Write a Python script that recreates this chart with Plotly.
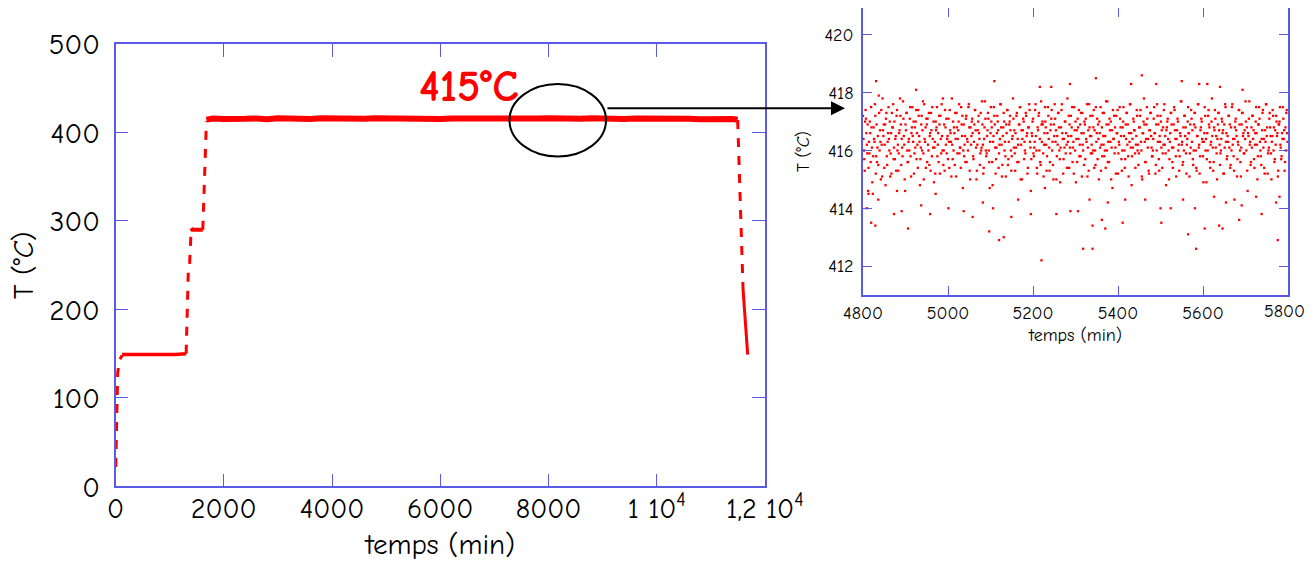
import plotly.graph_objects as go

# ---------------- data: main curve (time in min, temperature in °C) ----------------
rise1_t = [5, 15, 25, 40, 70, 120]
rise1_T = [22, 60, 95, 128, 142, 148]

plat150_t = [120, 300, 500, 700, 900, 1100, 1305]
plat150_T = [149, 149, 149.5, 149, 149.5, 149, 150]

rise2_t = [1305, 1330, 1345, 1366, 1398]
rise2_T = [150, 237, 243, 247, 291]

plat290_t = [1398, 1420, 1480, 1540, 1613]
plat290_T = [292, 290, 290, 289.5, 290]

rise3_t = [1613, 1640, 1660, 1680]
rise3_T = [290, 340, 395, 413]

plat415_t = [1680, 1800, 2000, 2200, 2400, 2600, 2800, 3000, 3200, 3400, 3600, 3800,
             4000, 4200, 4400, 4600, 4800, 5000, 5200, 5400, 5600, 5800, 6000, 6200,
             6400, 6600, 6800, 7000, 7200, 7400, 7600, 7800, 8000, 8200, 8400, 8600,
             8800, 9000, 9200, 9400, 9600, 9800, 10000, 10200, 10400, 10600, 10800,
             11000, 11200, 11400, 11495]
plat415_T = [414.5, 415.8, 415.2, 416.0, 415.4, 415.9, 415.1, 416.1, 415.5, 415.8, 415.2,
             416.0, 415.6, 415.9, 416.3, 415.4, 416.0, 415.7, 416.2, 415.5, 415.9, 416.1,
             415.3, 415.8, 415.6, 416.0, 415.4, 415.9, 415.7, 416.1, 415.5, 415.8, 416.0,
             415.3, 415.9, 415.6, 416.1, 415.4, 415.8, 415.2, 415.7, 415.9, 415.3, 415.6,
             415.0, 415.5, 414.9, 415.3, 414.8, 415.2, 414.5]

fall1_t = [11495, 11545, 11595]
fall1_T = [414, 320, 222]

fall2_t = [11595, 11640, 11680]
fall2_T = [222, 185, 149]

# ---------------- data: zoom 4800-5800 min ----------------
zoom_start = 4800      # first sample time (min)
zoom_step = 2          # sampling interval of each series (min)
# samples at even minutes
zoom_T = [
    417.2, 416.0, 415.3, 417.4, 416.6, 415.9, 414.6, 416.3, 417.0, 415.6, 416.8, 414.9, 415.8, 416.4, 417.6, 415.2, 416.9, 416.1, 415.5, 417.3,
    416.7, 415.0, 416.2, 417.8, 416.5, 415.4, 416.9, 417.1, 415.8, 416.3, 417.5, 416.0, 415.1, 416.6, 417.3, 416.8, 415.7, 417.0, 416.4, 415.3,
    417.4, 416.2, 415.9, 416.7, 417.2, 415.5, 416.1, 417.7, 416.5, 415.0, 416.9, 417.3, 416.0, 415.6, 416.4, 417.1, 415.8, 416.6, 417.5, 416.3,
    415.2, 416.8, 417.0, 415.7, 416.2, 417.4, 416.5, 414.8, 416.1, 417.2, 416.7, 415.9, 417.6, 416.3, 415.4, 416.9, 417.1, 416.0, 415.5, 416.6,
    417.3, 415.8, 416.4, 417.0, 416.1, 415.2, 416.7, 417.5, 416.2, 415.6, 416.9, 417.2, 415.9, 416.5, 417.8, 416.0, 415.3, 416.8, 417.1, 416.4,
    415.7, 416.3, 417.4, 416.6, 415.1, 416.2, 417.0, 416.8, 415.5, 416.4, 417.3, 415.9, 416.7, 417.6, 416.1, 415.4, 416.9, 417.2, 416.0, 415.8,
    416.5, 417.1, 415.6, 416.3, 417.5, 416.8, 415.0, 416.2, 417.0, 416.6, 415.7, 416.9, 417.4, 416.1, 415.3, 416.7, 417.2, 416.4, 415.9, 416.0,
    417.7, 416.2, 415.4, 416.8, 417.1, 415.8, 416.5, 417.3, 416.0, 414.7, 416.6, 417.0, 415.6, 416.3, 417.5, 416.9, 415.2, 416.1, 417.2, 416.7,
    415.9, 416.4, 417.6, 416.2, 415.5, 416.8, 417.0, 416.3, 415.1, 416.6, 417.4, 415.7, 416.9, 417.2, 416.0, 415.8, 416.5, 417.1, 416.7, 415.3,
    416.1, 417.3, 416.4, 415.6, 416.9, 417.5, 416.2, 415.0, 416.7, 417.0, 416.3, 415.9, 417.2, 416.6, 415.4, 416.8, 417.4, 416.1, 415.7, 416.5,
    417.1, 415.8, 416.3, 417.6, 416.0, 415.2, 416.7, 417.3, 416.4, 415.5, 416.9, 417.0, 415.9, 416.2, 417.5, 416.8, 415.3, 416.6, 417.2, 416.1,
    415.6, 416.9, 417.4, 416.3, 415.0, 416.5, 417.1, 416.7, 415.8, 416.2, 417.3, 416.0, 414.9, 416.8, 417.6, 416.4, 415.7, 416.1, 417.0, 416.6,
    415.4, 416.3, 417.2, 416.9, 415.9, 416.5, 417.5, 416.1, 415.2, 416.7, 417.0, 416.4, 415.6, 416.8, 417.4, 416.2, 415.8, 416.6, 417.3, 416.0,
    415.5, 416.9, 417.1, 416.3, 415.1, 416.7, 417.6, 416.5, 415.9, 416.2, 417.2, 416.8, 415.4, 416.0, 417.5, 416.6, 415.7, 416.4, 417.0, 416.1,
    415.3, 416.8, 417.3, 416.2, 415.8, 416.5, 417.7, 416.0, 415.6, 416.9, 417.1, 416.3, 415.0, 416.7, 417.4, 416.4, 415.9, 416.1, 417.2, 416.6,
    415.2, 416.3, 417.5, 416.8, 415.7, 416.0, 417.0, 416.5, 415.4, 416.9, 417.3, 416.2, 415.8, 416.6, 417.6, 416.1, 414.8, 416.4, 417.1, 416.7,
    415.9, 416.2, 417.4, 416.0, 415.5, 416.8, 417.2, 416.3, 415.1, 416.6, 417.0, 416.9, 415.6, 416.4, 417.5, 416.1, 415.3, 416.7, 417.3, 416.5,
    415.8, 416.0, 417.1, 416.6, 415.2, 416.9, 417.6, 416.3, 415.7, 416.5, 417.2, 416.1, 415.4, 416.8, 417.4, 416.2, 415.9, 416.7, 417.0, 416.4,
    415.0, 416.3, 417.3, 416.9, 415.6, 416.1, 417.5, 416.7, 415.8, 416.4, 417.1, 416.0, 415.3, 416.6, 417.7, 416.2, 415.5, 416.8, 417.2, 416.5,
    415.9, 416.2, 417.0, 416.6, 415.1, 416.9, 417.4, 416.3, 415.7, 416.0, 417.3, 416.8, 415.4, 416.5, 417.6, 416.1, 415.2, 416.7, 417.1, 416.4,
    415.8, 416.3, 417.5, 416.0, 414.9, 416.6, 417.2, 416.9, 415.6, 416.2, 417.0, 416.5, 415.3, 416.8, 417.4, 416.1, 415.9, 416.4, 417.3, 416.7,
    415.5, 416.0, 417.1, 416.6, 415.2, 416.9, 417.6, 416.3, 415.7, 416.5, 417.2, 416.1, 415.4, 416.8, 417.5, 416.2, 415.8, 416.4, 417.0, 416.7,
    415.1, 416.3, 417.4, 416.9, 415.6, 416.1, 417.3, 416.5, 415.9, 416.7, 417.7, 416.0, 415.3, 416.6, 417.1, 416.2, 415.5, 416.8, 417.2, 416.4,
    415.7, 416.2, 417.0, 416.6, 415.0, 416.9, 417.5, 416.3, 415.8, 416.4, 417.3, 416.1, 415.4, 416.7, 417.6, 416.5, 415.2, 416.0, 417.1, 416.8,
    415.9, 416.3, 417.4, 416.0, 415.6, 416.7, 417.2, 416.5, 415.1, 416.9, 417.0, 416.2, 415.7, 416.6, 417.5, 416.4, 415.3, 416.8, 417.3, 416.6,
]
# samples at odd minutes
zoom_T_odd = [
    416.4, 415.7, 417.0, 417.1, 416.2, 416.9, 415.4, 415.9, 416.6, 417.5, 416.1, 414.5, 416.8, 416.3, 417.2, 415.8, 415.6, 416.5, 417.9, 416.0,
    416.3, 417.4, 415.1, 416.7, 416.9, 416.2, 414.8, 417.3, 415.5, 416.6, 416.4, 417.0, 415.9, 415.2, 416.8, 417.6, 416.1, 415.7, 416.5, 417.2,
    416.0, 415.3, 416.6, 417.8, 416.9, 416.4, 415.8, 417.1, 416.2, 414.6, 416.7, 417.3, 415.6, 416.3, 416.0, 417.5, 415.1, 416.8, 416.5, 417.0,
    415.9, 416.1, 417.4, 416.6, 415.4, 417.2, 416.3, 415.7, 416.9, 416.0, 417.7, 415.0, 416.4, 416.8, 417.1, 415.6, 416.2, 417.3, 416.5, 415.3,
    416.7, 417.5, 416.1, 414.9, 416.3, 417.0, 416.8, 415.8, 416.6, 417.2, 415.2, 416.4, 417.6, 416.0, 415.5, 416.9, 417.4, 416.2, 415.9, 416.5,
    417.1, 415.4, 416.7, 416.3, 417.8, 415.7, 416.0, 416.6, 417.3, 415.1, 416.8, 416.4, 417.0, 415.9, 416.1, 417.5, 416.5, 414.7, 416.9, 416.2,
    415.6, 417.2, 416.4, 416.0, 417.6, 415.3, 416.8, 416.5, 417.1, 415.8, 416.3, 417.4, 416.7, 415.0, 416.2, 417.0, 416.6, 415.5, 417.3, 416.1,
    416.9, 415.2, 416.4, 417.7, 416.0, 415.9, 416.7, 417.1, 415.6, 416.3, 417.5, 416.8, 414.8, 416.5, 417.2, 416.1, 415.7, 416.6, 417.0, 415.4,
    416.2, 417.6, 416.8, 415.1, 416.5, 417.3, 416.0, 415.8, 416.9, 417.4, 415.5, 416.3, 417.0, 416.7, 415.3, 416.4, 417.8, 416.1, 415.9, 416.6,
    417.2, 415.6, 416.2, 416.9, 417.5, 415.0, 416.7, 416.4, 417.1, 415.7, 416.0, 417.3, 416.5, 415.2, 416.8, 417.6, 416.3, 414.6, 416.6, 417.0,
    415.9, 416.1, 417.4, 416.5, 415.4, 416.8, 417.2, 416.0, 415.6, 417.7, 416.3, 416.9, 415.1, 416.6, 417.0, 416.2, 415.8, 417.5, 416.4, 415.3,
    416.7, 417.1, 416.0, 415.5, 416.9, 417.6, 416.3, 415.0, 416.5, 417.3, 416.8, 415.7, 416.1, 417.4, 416.6, 415.2, 416.4, 417.0, 415.9, 416.2,
    417.8, 416.5, 415.4, 416.1, 417.2, 416.8, 415.6, 416.3, 417.5, 416.0, 414.9, 416.7, 417.1, 416.4, 415.8, 416.9, 417.3, 415.1, 416.2, 416.6,
    417.0, 415.7, 416.4, 417.6, 416.1, 415.3, 416.8, 417.2, 416.5, 415.9, 416.0, 417.4, 416.7, 415.5, 416.3, 417.1, 416.9, 415.0, 416.6, 417.5,
    416.2, 415.8, 416.5, 417.3, 416.0, 415.4, 416.9, 417.7, 416.3, 415.6, 416.7, 417.0, 416.1, 414.7, 416.4, 417.2, 416.8, 415.2, 416.6, 417.4,
    415.9, 416.2, 417.1, 416.5, 415.3, 416.8, 417.5, 416.0, 415.7, 416.4, 417.3, 416.9, 415.1, 416.3, 417.6, 416.6, 415.8, 416.1, 417.0, 416.7,
    415.4, 416.5, 417.2, 416.2, 415.9, 416.8, 417.4, 416.0, 415.0, 416.6, 417.8, 416.3, 415.6, 416.9, 417.1, 416.4, 415.2, 416.7, 417.3, 416.1,
    415.8, 416.4, 417.5, 416.6, 415.5, 416.0, 417.2, 416.9, 415.3, 416.3, 417.0, 416.7, 415.9, 416.2, 417.6, 416.5, 414.8, 416.8, 417.1, 416.0,
    415.7, 416.6, 417.3, 416.1, 415.4, 416.9, 417.4, 416.4, 415.1, 416.7, 417.0, 416.2, 415.8, 416.5, 417.7, 416.3, 415.6, 416.0, 417.2, 416.8,
    415.2, 416.4, 417.5, 416.6, 415.9, 416.1, 417.1, 416.7, 415.5, 416.9, 417.3, 416.0, 415.3, 416.5, 417.6, 416.2, 415.8, 416.8, 417.0, 416.3,
    414.9, 416.6, 417.2, 416.4, 415.7, 416.0, 417.4, 416.8, 415.4, 416.3, 417.8, 416.1, 415.6, 416.7, 417.1, 416.5, 415.0, 416.9, 417.3, 416.2,
    415.9, 416.4, 417.0, 416.7, 415.2, 416.1, 417.5, 416.6, 415.8, 416.3, 417.2, 416.9, 415.5, 416.0, 417.6, 416.4, 415.3, 416.8, 417.1, 416.5,
    415.7, 416.2, 417.4, 416.0, 415.1, 416.9, 417.3, 416.6, 415.9, 416.4, 417.0, 416.8, 414.6, 416.5, 417.7, 416.3, 415.6, 416.1, 417.2, 416.7,
    415.4, 416.6, 417.5, 416.2, 415.8, 416.9, 417.1, 416.0, 415.5, 416.7, 417.4, 416.4, 415.2, 416.3, 417.6, 416.8, 415.9, 416.1, 417.3, 416.5,
    415.0, 416.5, 417.2, 416.8, 415.7, 416.2, 417.0, 416.6, 415.3, 416.9, 417.5, 416.1, 415.8, 416.4, 417.1, 416.7, 415.6, 416.0, 417.4, 416.3,
]

# isolated points read individually (tails of the distribution)
extra_t = [4809, 4819, 4829, 4873, 4891, 4906, 5097, 5120, 5131, 5220, 5318, 5340, 5370,
           5340, 5411, 5502, 5565, 5584, 5604, 5638, 5646, 5685, 5776, 5738,
           4831, 4925, 5109, 5216, 5287, 5348, 5456, 5431, 5550, 5591, 5610, 5640,
           5693, 5490, 5243,
           4813, 4836, 4880, 4937, 4958, 4971, 5001, 5037, 5058, 5082, 5106, 5149,
           5165, 5195, 5228, 5255, 5288, 5306, 5333, 5362, 5376, 5417, 5464, 5500,
           5524, 5553, 5581, 5626, 5654, 5674, 5691, 5725, 5772, 5780]
extra_T = [414.0, 413.5, 413.4, 413.8, 413.9, 413.3, 413.2, 412.9, 413.0, 412.2, 412.6, 412.6, 413.3,
           413.4, 413.5, 413.5, 413.1, 412.6, 413.3, 413.4, 413.3, 413.6, 412.9, 413.8,
           418.4, 418.1, 418.4, 418.2, 418.3, 418.5, 418.6, 418.3, 418.4, 418.3, 418.3, 418.2,
           418.1, 418.3, 418.2,
           414.5, 414.3, 414.6, 414.1, 413.8, 414.5, 414.0, 413.9, 413.7, 414.2, 414.0, 413.7,
           414.3, 413.8, 414.7, 413.8, 413.9, 413.9, 414.3, 413.6, 414.2, 414.3, 414.3, 414.0,
           414.0, 414.3, 414.0, 414.4, 414.2, 414.3, 414.1, 414.4, 414.2, 414.4]

zoom_t = [zoom_start + zoom_step * i for i in range(len(zoom_T))]
zoom_t_odd = [zoom_start + 1 + zoom_step * i for i in range(len(zoom_T_odd))]

main_xticks = [0, 2000, 4000, 6000, 8000, 10000, 12000]
main_xticklabels = ["0", "2000", "4000", "6000", "8000", "1 10<sup>4</sup>", "1,2 10<sup>4</sup>"]
main_yticks = [0, 100, 200, 300, 400, 500]
zoom_xticks = [4800, 5000, 5200, 5400, 5600, 5800]
zoom_xticklabels = ["4800", "5000", "5200", "5400", "5600", "5800"]
zoom_yticks = [412, 414, 416, 418, 420]

# ---------------- figure ----------------
PAGE_W, PAGE_H = 1315, 570
BODY = 8                      # default page margin around the plot div
W, H = PAGE_W - 2 * BODY, PAGE_H - 2 * BODY
RED = "#ff0000"
AXC = "#5a5ae6"
FONT = "Comic Sans MS, Comic Neue, Lato, sans-serif"

def px(x):
    return min(max((x - BODY) / W, 0), 1)

def py(y):
    return min(max(1 - (y - BODY) / H, 0), 1)

fig = go.Figure()

def seg(t, T, dash, width):
    fig.add_trace(go.Scatter(x=t, y=T, mode="lines", xaxis="x", yaxis="y",
                             line=dict(color=RED, width=width, dash=dash),
                             showlegend=False, hoverinfo="skip"))

seg(rise1_t, rise1_T, "dash", 3)
seg(plat150_t, plat150_T, "solid", 3.5)
seg(rise2_t, rise2_T, "dash", 3)
seg(plat290_t, plat290_T, "solid", 4)
seg(rise3_t, rise3_T, "dash", 3)
seg(plat415_t, plat415_T, "solid", 6)
seg(fall1_t, fall1_T, "dash", 3)
seg(fall2_t, fall2_T, "solid", 3)

fig.add_trace(go.Scatter(x=zoom_t + zoom_t_odd + extra_t, y=zoom_T + zoom_T_odd + extra_T,
                         mode="markers", xaxis="x2", yaxis="y2",
                         marker=dict(color=RED, size=2.3, symbol="square", line=dict(width=0)),
                         showlegend=False, hoverinfo="skip"))

common = dict(showline=True, linecolor=AXC, mirror="ticks", ticks="inside",
              tickcolor=AXC, showgrid=False, zeroline=False, automargin=False)

fig.update_layout(
    width=W, height=H,
    margin=dict(l=0, r=0, t=0, b=0, autoexpand=False),
    paper_bgcolor="white", plot_bgcolor="white",
    font=dict(family=FONT, color="black"),
    xaxis=dict(domain=[px(115.5), px(765)], range=[0, 12000], anchor="y",
               tickvals=main_xticks, ticktext=main_xticklabels,
               tickfont=dict(size=28), ticklen=13, tickwidth=1.3, linewidth=1.8,
               ticklabelstandoff=-4, ticklabeloverflow="allow",
               title=dict(text="temps (min)", font=dict(size=29), standoff=10), **common),
    yaxis=dict(domain=[py(486.4), py(44)], range=[0, 500], anchor="x",
               tickvals=main_yticks, tickfont=dict(size=29), ticklen=13, tickwidth=1.3,
               linewidth=1.8, ticklabelstandoff=8,
               title=dict(text="T (°<i>C</i>)", font=dict(size=28), standoff=20), **common),
    xaxis2=dict(domain=[px(863), px(1288)], range=[4800, 5800], anchor="y2",
                tickvals=zoom_xticks[:-1] + [zoom_xticks[-1]],
                ticktext=zoom_xticklabels[:-1] + [""],
                tickfont=dict(size=18), ticklen=9, tickwidth=1.3,
                linewidth=1.8,
                title=dict(text="temps (min)", font=dict(size=18), standoff=6), **common),
    yaxis2=dict(domain=[py(295), py(8)], range=[411, 420.93], anchor="x2",
                tickvals=zoom_yticks, tickfont=dict(size=18), ticklen=9, tickwidth=1.3,
                linewidth=1.8, ticklabelstandoff=4,
                title=dict(text="T (°<i>C</i>)", font=dict(size=17), standoff=10), **common),
)

# last inset tick label, kept inside the page edge
fig.add_annotation(xref="paper", yref="paper", x=1.0, y=py(311),
                   xanchor="right", yanchor="middle", showarrow=False,
                   text=zoom_xticklabels[-1], font=dict(size=18, color="black", family=FONT))

# ellipse around the plateau and arrow to the zoom
fig.add_shape(type="circle", xref="paper", yref="paper",
              x0=px(509.5), x1=px(606), y0=py(156.5), y1=py(84),
              line=dict(color="black", width=2))
fig.add_annotation(xref="paper", yref="paper", axref="pixel", ayref="pixel",
                   x=px(845), y=py(108.3), ax=606 - 845, ay=0,
                   text="", showarrow=True, arrowhead=2, arrowsize=1.4,
                   arrowwidth=2, arrowcolor="black")

fig.add_annotation(xref="paper", yref="paper", x=px(469), y=py(86),
                   xanchor="center", yanchor="middle",
                   text="<b>415°C</b>", showarrow=False,
                   font=dict(size=44, color=RED, family=FONT))

fig.write_html("out.html")
